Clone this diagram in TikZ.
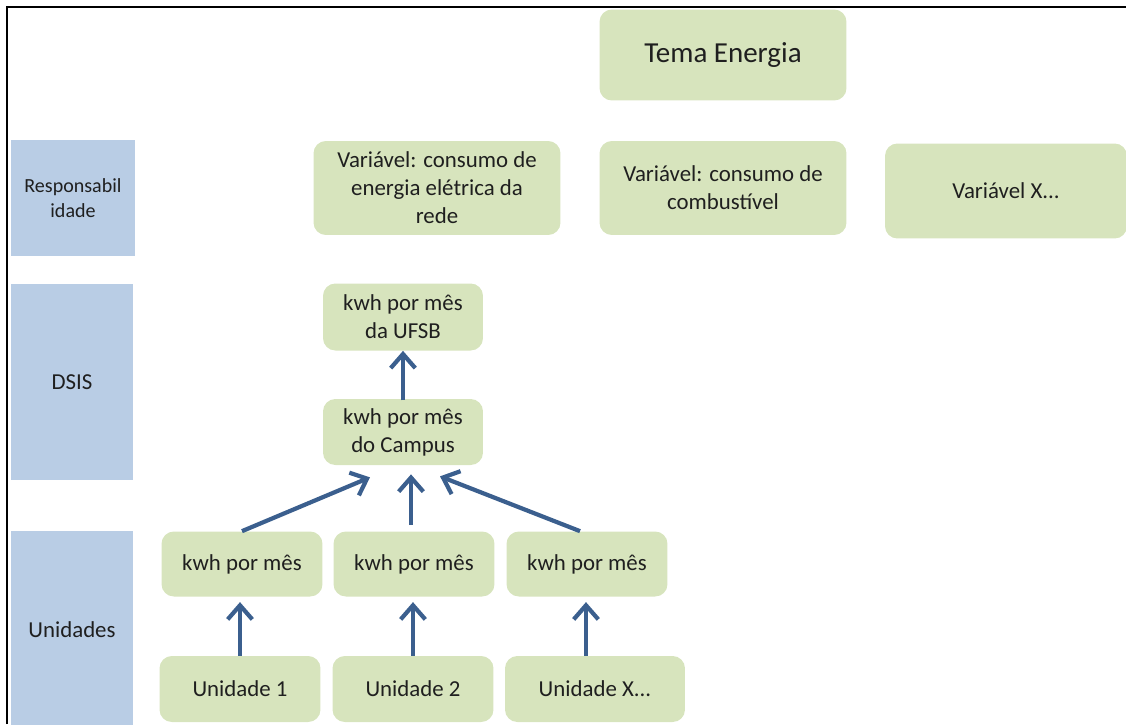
\documentclass[tikz,border=0pt]{standalone}
\usepackage{fontspec}
\setmainfont{Carlito}
\usetikzlibrary{arrows.meta,positioning}
\definecolor{boxgreen}{HTML}{D7E4BD}
\definecolor{boxblue}{HTML}{B9CDE5}
\definecolor{arrowblue}{HTML}{3B5F8E}
\definecolor{textdark}{HTML}{1F1F1F}
\tikzset{
    green-box/.style = {fill=boxgreen, rectangle, rounded corners=7pt, align=center, text=textdark, inner sep=0pt, font=\fontsize{13}{16}\selectfont},
    level-box/.style = {fill=boxblue, rectangle, align=center, text=textdark, inner sep=0pt, font=\fontsize{13}{16}\selectfont},
    up-arrow/.style = {draw=arrowblue, line width=2.4pt, -{Straight Barb[length=8pt,width=14pt]}},
}

\begin{document}
\begin{tikzpicture}[x=0.02cm, y=-0.02cm]
\useasboundingbox (0,0) rectangle (1126,724);
\draw[line width=1.6pt] (7,724) -- (7,7) -- (1126,7);

% levels on the left
\node[level-box, minimum width=2.48cm, minimum height=2.32cm, font=\fontsize{11.4}{14}\selectfont] (resp) at (73,198) {Responsabil\\idade};
\node[level-box, minimum width=2.44cm, minimum height=3.92cm] (dsis) at (72,382) {DSIS};
\node[level-box, minimum width=2.44cm, minimum height=3.96cm] (unid) at (72,630) {Unidades};

% theme and variables
\node[green-box, minimum width=4.94cm, minimum height=1.82cm, font=\fontsize{16.5}{20}\selectfont] (tema) at (723,55) {Tema Energia};
\node[green-box, minimum width=4.94cm, minimum height=1.88cm] (var1) at (437,188) {Variável: consumo de\\energia elétrica da\\rede};
\node[green-box, minimum width=4.94cm, minimum height=1.88cm] (var2) at (723,188) {Variável: consumo de\\combustível};
\node[green-box, minimum width=4.84cm, minimum height=1.9cm] (var3) at (1006,191) {Variável X...};

% DSIS
\node[green-box, minimum width=3.2cm, minimum height=1.34cm] (ufsb) at (403,317) {kwh por mês\\da UFSB};
\node[green-box, minimum width=3.2cm, minimum height=1.32cm] (campus) at (403,432) {kwh por mês\\do Campus};

% units
\node[green-box, minimum width=3.22cm, minimum height=1.3cm] (kwh1) at (242,564) {kwh por mês};
\node[green-box, minimum width=3.22cm, minimum height=1.3cm] (kwh2) at (414,564) {kwh por mês};
\node[green-box, minimum width=3.22cm, minimum height=1.3cm] (kwh3) at (587,564) {kwh por mês};
\node[green-box, minimum width=3.22cm, minimum height=1.32cm] (un1) at (240,689) {Unidade 1};
\node[green-box, minimum width=3.22cm, minimum height=1.32cm] (un2) at (413,689) {Unidade 2};
\node[green-box, minimum width=3.6cm, minimum height=1.32cm] (unx) at (595,689) {Unidade X...};

% arrows
\draw[up-arrow, shorten >=3pt] (un1.north) -- (un1.north |- kwh1.south);
\draw[up-arrow, shorten >=3pt] (un2.north) -- (un2.north |- kwh2.south);
\draw[up-arrow, shorten >=3pt] ([xshift=-0.18cm]unx.north) -- ([xshift=-0.18cm]unx.north |- kwh3.south);
\draw[up-arrow] (kwh1.north) -- ([shift={(-33,12)}]campus.south);
\draw[up-arrow] ([shift={(-3,-6)}]kwh2.north) -- ([shift={(8,9)}]campus.south);
\draw[up-arrow] ([xshift=-0.14cm]kwh3.north) -- ([shift={(37,11)}]campus.south);
\draw[up-arrow, shorten <=-1pt] (campus.north) -- (ufsb.south);
\end{tikzpicture}
\end{document}
